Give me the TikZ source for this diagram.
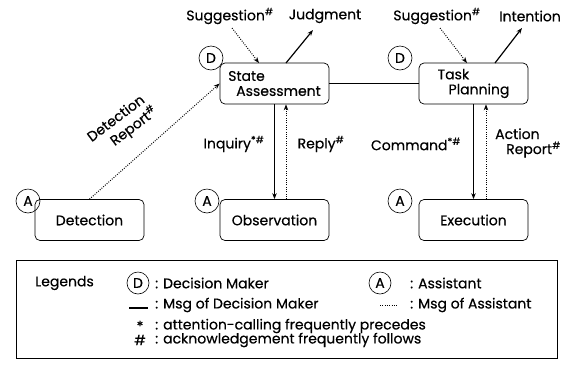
\documentclass[tikz,border=0pt]{standalone}
\usepackage{fontspec}
\setmainfont{Poppins}[FakeBold=0.4]
\usetikzlibrary{arrows.meta}
\begin{document}
\begin{tikzpicture}[x=1pt,y=-1pt,
  font=\fontsize{14}{15}\selectfont,
  box/.style={draw, rounded corners=5pt, line width=0.7pt, minimum width=109pt, minimum height=41pt, align=left, inner sep=0pt},
  role/.style={draw, circle, line width=0.6pt, minimum size=24pt, inner sep=0pt},
  lbl/.style={inner sep=0pt},
  msgd/.style={line width=1.2pt, -{Stealth[length=6pt,width=4.5pt]}},
  msga/.style={line width=1pt, dash pattern=on 0.9pt off 1.4pt, -{Stealth[length=6pt,width=4.5pt]}},
  link/.style={line width=1.2pt}]
\useasboundingbox (0,0) rectangle (565,365);

% activity boxes
\node[box] (sa) at (274.5,83.5) {State\\\hspace*{8pt}Assessment};
\node[box] (tp) at (473.5,83.5) {Task\\\hspace*{11pt}Planning};
\node[box] (det) at (89.5,220) {Detection};
\node[box] (obs) at (274.5,220) {Observation};
\node[box] (exe) at (473.5,220) {Execution};

% role markers
\node[role] (rsa) at (211,58) {D};
\node[role] (rtp) at (400,58) {D};
\node[role] (rdet) at (28,201) {A};
\node[role] (robs) at (207,201) {A};
\node[role] (rexe) at (400,201) {A};

% message labels
\node[lbl] (sug1) at (230,16) {Suggestion\textsuperscript{\#}};
\node[lbl] (jud) at (325,16) {Judgment};
\node[lbl] (sug2) at (437,16) {Suggestion\textsuperscript{\#}};
\node[lbl] (int) at (530,16) {Intention};
\node[lbl] (inq) at (234,144) {Inquiry\textsuperscript{*\#}};
\node[lbl] (rep) at (321,144) {Reply\textsuperscript{\#}};
\node[lbl] (cmd) at (416,144) {Command\textsuperscript{*\#}};
\node[lbl, align=left, anchor=west] (act) at (495,143) {Action\\\hspace*{11pt}Report\textsuperscript{\#}};
\node[lbl, align=left, rotate=37, font=\fontsize{14}{17}\selectfont] (drep) at (123,125) {Detection\\\hspace*{16pt}Report\textsuperscript{\#}};

% connector ends near labels
\coordinate (s1) at (232,28);
\coordinate (j1) at (313,30);
\coordinate (s2) at (440,28);
\coordinate (i1) at (522,28);

% messages
\draw[msga] (s1) -- (259,63);
\draw[msgd] (286,63) -- (j1);
\draw[msga] (s2) -- (467,63);
\draw[msgd] (495,63) -- (i1);
\draw[link] (sa.east) -- (tp.west);
\draw[msga] (det.north) -- (sa.west);
\draw[msgd] (sa.south) -- (obs.north);
\draw[msga] (obs.north -| 286,0) -- (sa.south -| 286,0);
\draw[msgd] (tp.south) -- (exe.north);
\draw[msga] (exe.north -| 486,0) -- (tp.south -| 486,0);

% legend
\node[draw, line width=0.7pt, minimum width=541pt, minimum height=98pt, inner sep=0pt] (leg) at (286.5,309) {};
\node[lbl, anchor=west] (legt) at (35,283) {Legends};
\node[role, minimum size=22pt] (legd) at (138,283) {D};
\node[lbl, anchor=west] (legdt) at (155,283) {: Decision Maker};
\node[role, minimum size=22pt] (lega) at (380,283) {A};
\node[lbl, anchor=west] (legat) at (410,283) {: Assistant};
\coordinate (ls1) at (129,308);
\coordinate (ls2) at (148,308);
\draw[link] (ls1) -- (ls2);
\node[lbl, anchor=west] (legst) at (155,305) {: Msg of Decision Maker};
\coordinate (la1) at (380,305);
\coordinate (la2) at (398,305);
\draw[line width=0.8pt, dash pattern=on 0.9pt off 1.4pt] (la1) -- (la2);
\node[lbl, anchor=west] (legat2) at (410,305) {: Msg of Assistant};
\node[lbl] (star) at (140,326) {*};
\node[lbl, anchor=west] (lst) at (155,326) {: attention-calling frequently precedes};
\node[lbl] (hash) at (140,340) {\#};
\node[lbl, anchor=west] (lht) at (155,340) {: acknowledgement frequently follows};
\end{tikzpicture}
\end{document}
